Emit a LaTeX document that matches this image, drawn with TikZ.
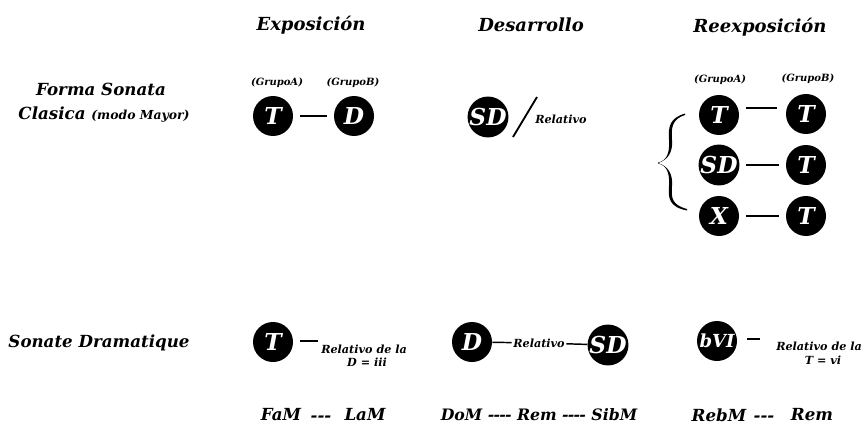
\documentclass[tikz,border=0pt]{standalone}
\usepackage{fontspec}
\setmainfont{DejaVu Serif}
\begin{document}
\begin{tikzpicture}[x=0.75pt,y=-0.75pt,
  bi/.style={font=\bfseries\itshape\fontsize{#1}{#1}\selectfont, inner sep=0pt},
  head/.style={bi=13.5},
  lab/.style={bi=12.5},
  tiny/.style={bi=7.5},
  rel/.style={bi=8.4},
  circ/.style={circle, fill=black, text=white, minimum size=30pt, inner sep=0pt, font=\bfseries\itshape\fontsize{17.5}{17.5}\selectfont},
  conn/.style={line width=1.1pt},
  gap/.style={shorten <=5pt, shorten >=5pt}]
\useasboundingbox (0,0) rectangle (862,424);
% headings
\node[head] (h1) at (311,25) {Exposición};
\node[head] (h2) at (531,25) {Desarrollo};
\node[head] (h3) at (760,27) {Reexposición};
% row labels
\node[lab] (fs1) at (101,89) {Forma Sonata};
\node[lab] (fs2) at (104,115) {Clasica {\fontsize{9.3}{10}\selectfont (modo Mayor)}};
\node[lab] (sd) at (99,343) {Sonate Dramatique};
% Exposicion top
\node[tiny] (ga1) at (277,83) {(GrupoA)};
\node[tiny] (gb1) at (353,83) {(GrupoB)};
\node[circ] (eT) at (273,116) {T};
\node[circ] (eD) at (354,116) {D};
\draw[conn, gap] (eT) -- (eD);
% Desarrollo top
\node[circ] (dSD) at (488,117) {SD};
\coordinate (s1) at (513,137);
\coordinate (s2) at (537,97);
\draw[line width=1.4pt] (s1) -- (s2);
\node[rel, anchor=west] (drel) at (535,119) {Relativo};
% Reexposicion top
\node[tiny] (ga2) at (720,80) {(GrupoA)};
\node[tiny] (gb2) at (808,79) {(GrupoB)};
\node[circ] (r1a) at (719,115) {T};
\node[circ] (r1b) at (806,114) {T};
\node[circ] (r2a) at (719,165) {SD};
\node[circ] (r2b) at (806,165) {T};
\node[circ] (r3a) at (719,216) {X};
\node[circ] (r3b) at (806,216) {T};
\coordinate (l1a) at (746,108); \coordinate (l1b) at (777,108);
\draw[conn] (l1a) -- (l1b);
\draw[conn, gap] (r2a) -- (r2b);
\draw[conn, gap] (r3a) -- (r3b);
% brace
\coordinate (bt) at (685,115);
\coordinate (btip) at (658,163);
\coordinate (bb) at (687,209);
\fill (bt) .. controls (672,119) and (671,128) .. (672,140)
  .. controls (673,152) and (668,160) .. (btip)
  .. controls (668,166) and (673,174) .. (672,186)
  .. controls (671,198) and (672,205) .. (bb)
  -- (687,210.5)
  .. controls (669,207) and (668,198) .. (669,186)
  .. controls (670,172) and (666,165) .. (658,163.5)
  -- (658,162.5)
  .. controls (666,161) and (670,154) .. (669,140)
  .. controls (668,126) and (670,118) .. (685,113.5) -- cycle;
% bottom row
\node[circ] (bT) at (273,342) {T};
\coordinate (bl1) at (300,341); \coordinate (bl2) at (318,341);
\draw[conn] (bl1) -- (bl2);
\node[rel, anchor=west] (br1) at (321,349) {Relativo de la};
\node[rel] (br2) at (367,362) {D = iii};
\node[circ] (bD) at (472,342) {D};
\node[rel, inner sep=1pt] (bmrel) at (539,343) {Relativo};
\node[circ] (bSD) at (608,345) {SD};
\draw[conn] (bD) -- (bmrel);
\draw[conn] (bmrel) -- (bSD);
\node[circ, font=\bfseries\itshape\fontsize{13.5}{13.5}\selectfont] (bVI) at (717,341) {bVI};
\coordinate (bl3) at (747,339); \coordinate (bl4) at (760,339);
\draw[conn] (bl3) -- (bl4);
\node[rel, anchor=west] (br3) at (776,346) {Relativo de la};
\node[rel] (br4) at (823,360) {T = vi};
% keys
\node[lab] (k1a) at (281,415) {FaM};
\node[lab] (k1b) at (321,419) {-{}-{}-};
\node[lab] (k1c) at (365,415) {LaM};
\node[bi=11.8] (k2) at (539,415) {DoM -\kern-0.6pt-\kern-0.6pt-\kern-0.6pt- Rem -\kern-0.6pt-\kern-0.6pt-\kern-0.6pt- SibM};
\node[lab] (k3a) at (719,415) {RebM};
\node[lab] (k3b) at (764,419) {-{}-{}-};
\node[lab] (k3c) at (812,415) {Rem};
\end{tikzpicture}
\end{document}
